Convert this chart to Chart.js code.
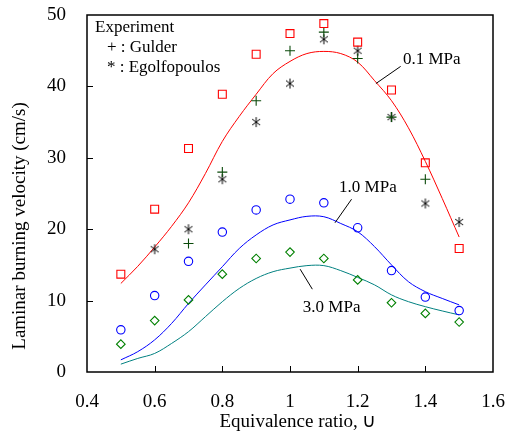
<!DOCTYPE html>
<html>
<head>
<meta charset="utf-8">
<script src="https://cdn.jsdelivr.net/npm/chart.js@4/dist/chart.umd.min.js"></script>
<style>
  body { margin: 0; background: #fff; }
</style>
</head>
<body>
<canvas id="burnChart" width="505" height="434"></canvas>
<script>
// measured points (equivalence ratio)
const phi = [0.5, 0.6, 0.7, 0.8, 0.9, 1.0, 1.1, 1.2, 1.3, 1.4, 1.5];
const sq01MPa = [13.7, 22.8, 31.3, 38.9, 44.5, 47.4, 48.8, 46.2, 39.5, 29.3, 17.3];
const circ10MPa = [5.9, 10.7, 15.5, 19.6, 22.7, 24.2, 23.7, 20.2, 14.2, 10.5, 8.6];
const diam30MPa = [3.9, 7.2, 10.1, 13.7, 15.9, 16.8, 15.9, 12.9, 9.7, 8.2, 7.0];

// experiments
const gulderPhi = [0.7, 0.8, 0.9, 1.0, 1.1, 1.2, 1.3, 1.4];
const gulder = [18.0, 28.0, 38.0, 45.0, 47.6, 43.9, 35.7, 27.0];
const egolfPhi = [0.6, 0.7, 0.8, 0.9, 1.0, 1.1, 1.2, 1.3, 1.4, 1.5];
const egolf = [17.2, 20.0, 27.0, 35.0, 40.4, 46.6, 45.0, 35.7, 23.6, 21.0];

// computed curves
const phiCurve = [0.5, 0.55, 0.6, 0.65, 0.7, 0.75, 0.8, 0.85, 0.9, 0.95, 1.0,
                  1.05, 1.1, 1.15, 1.2, 1.25, 1.3, 1.35, 1.4, 1.45, 1.5];
const curve01 = [12.4, 14.8, 17.5, 20.4, 23.7, 27.8, 32.3, 35.8, 38.9, 41.8, 43.5,
                 44.6, 44.9, 44.6, 43.4, 40.8, 38.0, 34.2, 29.5, 24.3, 18.9];
const curve10 = [1.7, 2.85, 4.5, 6.8, 9.6, 12.2, 14.75, 17.3, 19.2, 20.6, 21.3,
                 21.8, 21.75, 20.8, 19.65, 17.55, 15.0, 12.65, 11.25, 10.3, 9.4];
const curve30 = [1.1, 1.9, 2.6, 4.0, 5.65, 7.75, 9.85, 11.7, 13.1, 14.05, 14.55,
                 14.9, 14.9, 14.2, 13.25, 12.2, 10.8, 9.85, 9.15, 8.55, 8.0];

// curve labels and their leader lines (data coords)
const curveLabels = ['0.1 MPa', '1.0 MPa', '3.0 MPa'];
const labelPos = [[1.334, 43.7], [1.145, 25.9], [1.038, 9.0]];
const leaderLines = [
  [[1.327, 42.8], [1.254, 40.4]],
  [[1.182, 24.2], [1.133, 20.9]],
  [[1.030, 14.4], [1.066, 11.6]]
];

const xTickVals = [0.6, 0.8, 1.0, 1.2, 1.4];
const yTickVals = [10, 20, 30, 40];

const serif = '"Liberation Serif", "Times New Roman", serif';

function pts(xs, ys) {
  return xs.map((v, i) => ({x: v, y: ys[i]}));
}

// asterisk marker for Egolfopoulos
function makeStar() {
  const c = document.createElement('canvas');
  c.width = 12; c.height = 12;
  const g = c.getContext('2d');
  g.strokeStyle = '#000';
  g.lineWidth = 1;
  g.beginPath();
  g.moveTo(6, 1); g.lineTo(6, 11);
  g.moveTo(2, 3); g.lineTo(10, 9);
  g.moveTo(10, 3); g.lineTo(2, 9);
  g.stroke();
  return c;
}

const frameAndText = {
  id: 'frameAndText',
  afterDatasetsDraw(chart) {
    const {ctx, chartArea: a, scales: {x, y}} = chart;
    ctx.save();
    ctx.strokeStyle = '#000';
    ctx.lineWidth = 1;
    // inward ticks
    ctx.beginPath();
    xTickVals.forEach(v => {
      const px = Math.round(x.getPixelForValue(v)) + 0.5;
      ctx.moveTo(px, a.bottom); ctx.lineTo(px, a.bottom - 6);
    });
    yTickVals.forEach(v => {
      const py = Math.round(y.getPixelForValue(v)) + 0.5;
      ctx.moveTo(a.left, py); ctx.lineTo(a.left + 6, py);
    });
    ctx.stroke();
    // leader lines
    ctx.beginPath();
    leaderLines.forEach(l => {
      ctx.moveTo(x.getPixelForValue(l[0][0]), y.getPixelForValue(l[0][1]));
      ctx.lineTo(x.getPixelForValue(l[1][0]), y.getPixelForValue(l[1][1]));
    });
    ctx.stroke();
    // frame
    ctx.lineWidth = 1.5;
    ctx.strokeRect(a.left, a.top, a.right - a.left, a.bottom - a.top);

    ctx.fillStyle = '#000';
    ctx.textBaseline = 'middle';
    ctx.textAlign = 'left';
    ctx.font = '17px ' + serif;
    curveLabels.forEach((t, i) => {
      ctx.fillText(t, x.getPixelForValue(labelPos[i][0]), y.getPixelForValue(labelPos[i][1]));
    });
    // legend box text
    ctx.fillText('Experiment', a.left + 8, a.top + 13);
    ctx.fillText('+ : Gulder', a.left + 20, a.top + 33);
    ctx.fillText('* : Egolfopoulos', a.left + 20, a.top + 53);

    // axis titles
    ctx.font = '19px ' + serif;
    ctx.textAlign = 'center';
    ctx.fillText('Equivalence ratio, \u222A', 298, 422);
    ctx.translate(20, 226);
    ctx.rotate(-Math.PI / 2);
    ctx.fillText('Laminar burning velocity (cm/s)', 0, 0);
    ctx.restore();
  }
};

const lineStyle = {pointRadius: 0, borderWidth: 1, fill: false, tension: 0.35, showLine: true};
const markStyle = {showLine: false, backgroundColor: 'rgba(0,0,0,0)', borderWidth: 1.1};

new Chart(document.getElementById('burnChart'), {
  type: 'line',
  data: {
    datasets: [
      {...markStyle, label: '0.1 MPa data', data: pts(phi, sq01MPa), pointStyle: 'rect', pointRadius: 5.6, borderColor: '#ff0000'},
      {...markStyle, label: 'Gulder', data: pts(gulderPhi, gulder), pointStyle: 'cross', pointRadius: 5, borderColor: '#0a4a0a'},
      {...markStyle, label: 'Egolfopoulos', data: pts(egolfPhi, egolf), pointStyle: makeStar(), pointRadius: 6},
      {...markStyle, label: '1.0 MPa data', data: pts(phi, circ10MPa), pointStyle: 'circle', pointRadius: 4.2, borderColor: '#0000ff'},
      {...markStyle, label: '3.0 MPa data', data: pts(phi, diam30MPa), pointStyle: 'rectRot', pointRadius: 4.3, borderColor: '#008000'},
      {...lineStyle, label: '0.1 MPa', data: pts(phiCurve, curve01), borderColor: '#ff0000'},
      {...lineStyle, label: '1.0 MPa', data: pts(phiCurve, curve10), borderColor: '#0000ff'},
      {...lineStyle, label: '3.0 MPa', data: pts(phiCurve, curve30), borderColor: '#008080'}
    ]
  },
  options: {
    responsive: false,
    animation: false,
    layout: {padding: {left: 0, right: 12, top: 15, bottom: 0}},
    scales: {
      x: {
        type: 'linear',
        min: 0.4,
        max: 1.6,
        afterFit: s => { s.height = 62; s.paddingLeft = 0; s.paddingRight = 0; },
        border: {display: false},
        grid: {display: false, drawTicks: false},
        ticks: {
          stepSize: 0.2,
          padding: 19,
          color: '#000',
          font: {family: serif, size: 19},
          maxRotation: 0,
          callback: v => String(Math.round(v * 10) / 10)
        }
      },
      y: {
        min: 0,
        max: 50,
        afterFit: s => { s.width = 87; s.paddingTop = 0; s.paddingBottom = 0; },
        border: {display: false},
        grid: {display: false, drawTicks: false},
        ticks: {
          stepSize: 10,
          padding: 21,
          color: '#000',
          font: {family: serif, size: 19}
        }
      }
    },
    plugins: {
      legend: {display: false},
      tooltip: {enabled: false}
    }
  },
  plugins: [frameAndText]
});
</script>
</body>
</html>
